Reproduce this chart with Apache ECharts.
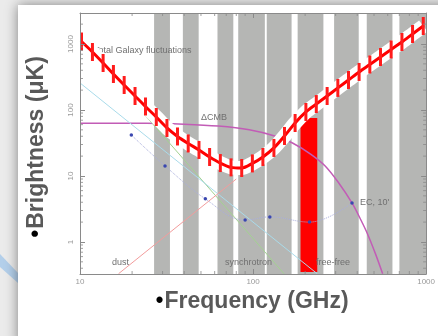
<!DOCTYPE html>
<html><head><meta charset="utf-8">
<script src="https://cdn.jsdelivr.net/npm/echarts@6/dist/echarts.min.js"></script>
<style>html,body{margin:0;padding:0;background:#ebebeb}#c{width:438px;height:336px}</style>
</head><body><div id="c"></div>
<script>
// ---- data ----
const hatchFreq   = [10.2, 11.8, 13.6, 15.6, 18.0, 20.8, 23.9, 27.6, 31.8, 36.6, 42.2, 48.7, 56.1, 64.7, 74.6, 86.0, 99.1, 114, 132, 152, 175, 202, 232, 268, 309, 356, 410, 473, 545, 628, 725, 835, 963];
const totalGalaxy = [1091, 757, 515, 351, 239, 163, 113, 78.3, 53.4, 39.7, 31.1, 24.8, 19.4, 15.7, 13.5, 13.2, 15.5, 19.4, 26.6, 40.4, 63.5, 93.3, 123, 163, 216, 285, 377, 489, 635, 826, 1072, 1418, 1874];
const cmbFreq = [10, 24, 40, 63, 95, 135, 169, 215, 261, 310, 373, 420, 460, 510, 561];
const cmbT    = [63, 63, 61, 57, 50, 40, 31.6, 21.5, 14.2, 8.1, 3.9, 2.15, 1.3, 0.66, 0.33];
const syncFreq = [10, 151];
const syncT    = [1110, 0.33];
const ffFreq   = [10, 235];
const ffT      = [257, 0.33];
const dustFreq = [16.7, 80];
const dustT    = [0.33, 9.0];
const ecFreq = [19.8, 31, 53, 90, 125, 212, 373];
const ecT    = [41.8, 14.2, 4.5, 2.15, 2.4, 2.0, 3.9];
const bandLo = [26.8, 39.3, 62.3, 82.1, 120, 181, 294, 454, 701];
const bandHi = [33.1, 48.5, 76.9, 117, 167, 255, 408, 639, 1000];
const markFreq = [188, 235];
const markT    = [0.35, 75.7];
const xRange = [10, 1000];
const yRange = [0.327, 2950];
const xMinorTicks = [20, 30, 40, 50, 60, 70, 80, 90, 200, 300, 400, 500, 600, 700, 800, 900];
const yMinorTicks = [0.4, 0.5, 0.6, 0.7, 0.8, 0.9, 2, 3, 4, 5, 6, 7, 8, 9, 20, 30, 40, 50, 60, 70, 80, 90, 200, 300, 400, 500, 600, 700, 800, 900, 2000];

// ---- build ----
const pairs = (a, b) => a.map((v, i) => [v, b[i]]);
const axisColor = '#8a8a8a';
const fmt = v => String(+(+v).toPrecision(6));
const labelFont = {color: '#9a9a9a', fontSize: 8, fontFamily: 'Liberation Sans, Arial, sans-serif'};
const txt = {fontFamily: 'Liberation Sans, Arial, sans-serif', fontSize: 9, fill: '#707070'};
const titleRich = {
  b: {fill: '#000', fontSize: 23, fontFamily: 'Liberation Sans, Arial', padding: [0, 1, 0, 0]},
  t: {fill: '#595959', fontSize: 23, fontWeight: 'bold', fontFamily: 'Liberation Sans, Arial'}
};

function xAx(pos, show) {
  return {type: 'log', logBase: 10, min: xRange[0], max: xRange[1], position: pos, z: 10,
    axisLine: {show: true, lineStyle: {color: axisColor, width: 1}},
    axisTick: {show: true, inside: true, length: 5, lineStyle: {color: axisColor}},
    axisLabel: Object.assign({show: show, margin: 4, formatter: fmt}, labelFont),
    splitLine: {show: false}};
}
function yAx(pos, show) {
  return {type: 'log', logBase: 10, min: yRange[0], max: yRange[1], position: pos, z: 10,
    axisLine: {show: true, lineStyle: {color: axisColor, width: 1}},
    axisTick: {show: true, inside: true, length: 5, lineStyle: {color: axisColor}},
    axisLabel: Object.assign({show: show, rotate: 90, margin: 5, formatter: fmt, showMinLabel: false, showMaxLabel: false}, labelFont),
    splitLine: {show: false}};
}
function minor(data, size, offset) {
  return {type: 'scatter', data: data, symbol: 'rect', symbolSize: size, symbolOffset: offset,
    itemStyle: {color: axisColor}, silent: true, clip: false, z: 11};
}
function thin(data, color, w) {
  return {type: 'line', data: data, symbol: 'none', lineStyle: {color: color, width: w}, z: 3, silent: true};
}

const option = {
  animation: false,
  backgroundColor: '#ebebeb',
  grid: {left: 80, right: 8, top: 13, bottom: 62},
  xAxis: [xAx('bottom', true), xAx('top', false)],
  yAxis: [yAx('left', true), yAx('right', false)],
  graphic: [
    {type: 'polygon', z: -20, shape: {points: [[0, 254], [18, 273], [18, 283], [0, 267]]}, style: {fill: 'rgba(160,198,234,0.75)'}},
    {type: 'rect', z: -10, shape: {x: 18, y: 5, width: 440, height: 340}, style: {fill: '#ffffff', shadowBlur: 12, shadowColor: 'rgba(0,0,0,0.45)'}},
    {type: 'text', z: 4, x: 94, y: 51, style: Object.assign({text: 'Total Galaxy fluctuations', verticalAlign: 'middle'}, txt)},
    {type: 'text', z: 4, x: 201, y: 118, style: Object.assign({text: 'ΔCMB', verticalAlign: 'middle'}, txt)},
    {type: 'text', z: 4, x: 360, y: 203, style: Object.assign({text: "EC, 10'", verticalAlign: 'middle'}, txt)},
    {type: 'text', z: 4, x: 112, y: 263, style: Object.assign({text: 'dust', verticalAlign: 'middle'}, txt)},
    {type: 'text', z: 4, x: 225, y: 263, style: Object.assign({text: 'synchrotron', verticalAlign: 'middle'}, txt)},
    {type: 'text', z: 4, x: 316, y: 263, style: Object.assign({text: 'free-free', verticalAlign: 'middle'}, txt)},
    {type: 'text', z: 12, x: 252, y: 302, style: {text: '{b|•}{t|Frequency (GHz)}', align: 'center', verticalAlign: 'middle', rich: titleRich}},
    {type: 'text', z: 12, x: 37, y: 147, rotation: Math.PI / 2, style: {text: '{b|•}{t|Brightness (μK)}', align: 'center', verticalAlign: 'middle', rich: titleRich}}
  ],
  series: [
    {type: 'line', data: [[xRange[0], yRange[0]]], symbol: 'none', lineStyle: {opacity: 0}, z: 1, silent: true,
      markArea: {silent: true, itemStyle: {color: '#b5b6b4'}, data: bandLo.map((lo, i) => [{xAxis: lo}, {xAxis: bandHi[i]}])}},
    Object.assign(thin(pairs(cmbFreq, cmbT), '#c25cb6', 1.5), {smooth: 0.3}),
    thin(pairs(syncFreq, syncT), '#a3d291', 1),
    thin(pairs(ffFreq, ffT), '#a9dbea', 1),
    thin(pairs(dustFreq, dustT), '#f29c9c', 1),
    {type: 'line', data: pairs(ecFreq, ecT), smooth: 0.4, symbol: 'circle', symbolSize: 3.5, showAllSymbol: true,
      lineStyle: {color: '#a9aedd', width: 1, type: 'dotted'}, itemStyle: {color: '#3a47b0'}, z: 3, silent: true},
    {type: 'line', data: [[xRange[0], yRange[0]]], symbol: 'none', lineStyle: {opacity: 0}, z: 5, silent: true,
      markArea: {silent: true, itemStyle: {color: '#ff0000', opacity: 1},
        data: [[{coord: [markFreq[0], markT[0]]}, {coord: [markFreq[1], markT[1]]}]]}},
    {type: 'line', data: pairs(hatchFreq, totalGalaxy), smooth: 0.3, symbol: 'none',
      lineStyle: {color: '#ffffff', width: 14}, z: 6, silent: true},
    {type: 'line', data: pairs(hatchFreq, totalGalaxy), smooth: 0.3, symbol: 'rect', symbolSize: [3, 18], showAllSymbol: true,
      lineStyle: {color: '#ff0000', width: 3}, itemStyle: {color: '#ff1c1c'}, z: 7, silent: true},
    minor(xMinorTicks.map(v => [v, yRange[0]]), [1, 3], [0, -1.5]),
    minor(xMinorTicks.map(v => [v, yRange[1]]), [1, 3], [0, 1.5]),
    minor(yMinorTicks.map(v => [xRange[0], v]), [3, 1], [1.5, 0]),
    minor(yMinorTicks.map(v => [xRange[1], v]), [3, 1], [-1.5, 0])
  ]
};
const chart = echarts.init(document.getElementById('c'), null, {renderer: 'canvas'});
chart.setOption(option);
</script>
</body></html>
